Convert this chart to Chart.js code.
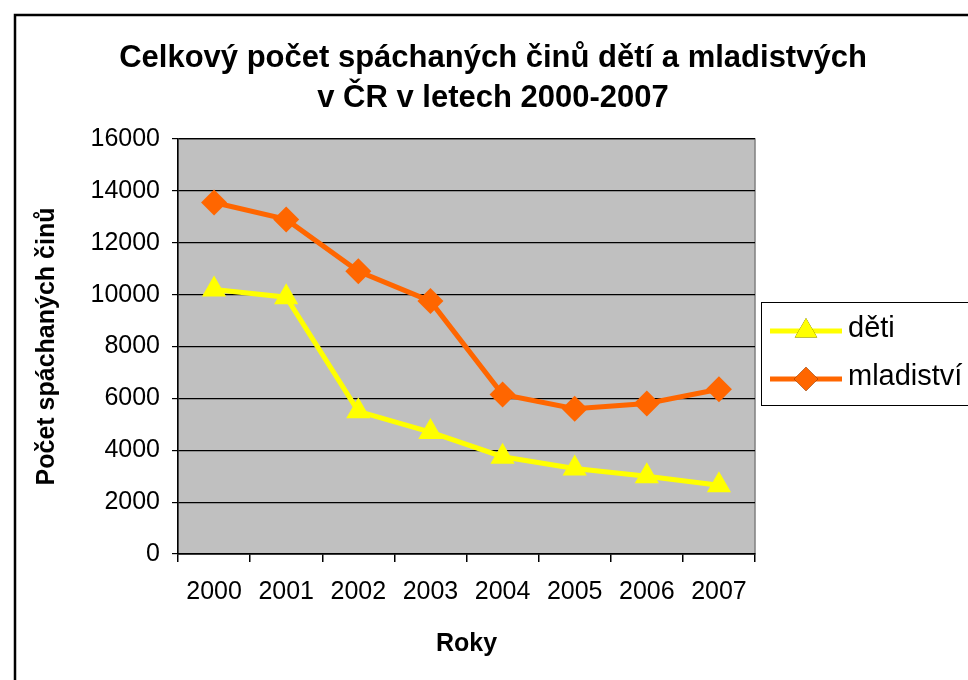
<!DOCTYPE html>
<html>
<head>
<meta charset="utf-8">
<script src="https://cdn.jsdelivr.net/npm/chart.js@4"></script>
<style>
  html, body { margin: 0; padding: 0; background: #fff; }
  #wrap { width: 968px; height: 680px; }
</style>
</head>
<body>
<div id="wrap"><canvas id="chart" width="968" height="680"></canvas></div>
<script>
// data
const years = ['2000', '2001', '2002', '2003', '2004', '2005', '2006', '2007'];
const deti = [10200, 9900, 5500, 4700, 3750, 3300, 3000, 2650];
const mladistvi = [13550, 12900, 10900, 9750, 6150, 5600, 5800, 6350];
const titleLines = ['Celkový počet spáchaných činů dětí a mladistvých', 'v ČR v letech 2000-2007'];

const FONT = '"Liberation Sans", Arial, sans-serif';

// grey plot background, outer frame, title and the boxed legend
const decor = {
    id: 'decor',
    beforeDraw(chart) {
        const c = chart.ctx;
        const a = chart.chartArea;
        c.save();
        c.fillStyle = '#c0c0c0';
        c.fillRect(a.left, a.top, a.right - a.left, a.bottom - a.top);
        c.strokeStyle = '#808080';
        c.lineWidth = 1.5;
        c.strokeRect(a.left, a.top, a.right - a.left, a.bottom - a.top);
        c.restore();
    },
    afterDraw(chart) {
        const c = chart.ctx;
        c.save();
        // frame
        c.strokeStyle = '#000';
        c.lineWidth = 2.5;
        c.strokeRect(15, 15, 1000, 700);

        // title
        c.fillStyle = '#000';
        c.font = 'bold 31px ' + FONT;
        c.textAlign = 'center';
        c.textBaseline = 'middle';
        titleLines.forEach((t, i) => c.fillText(t, 493, 58 + i * 40));

        // legend
        c.lineWidth = 1;
        c.strokeRect(761.5, 302.5, 260, 103);
        c.font = '29px ' + FONT;
        c.textAlign = 'left';
        chart.data.datasets.forEach((ds, i) => {
            const y = 331 + i * 48;
            c.strokeStyle = ds.borderColor;
            c.lineWidth = ds.borderWidth;
            c.beginPath();
            c.moveTo(770, y);
            c.lineTo(842, y);
            c.stroke();
            Chart.helpers.drawPoint(c, {
                pointStyle: ds.pointStyle,
                radius: ds.pointRadius - 1,
                rotation: 0,
                borderWidth: 0
            }, 806, y);
            c.fillStyle = ds.borderColor;
            c.fill();
            c.fillStyle = '#000';
            c.fillText(ds.label, 848, y - 2);
        });
        c.restore();
    }
};

new Chart(document.getElementById('chart'), {
    type: 'line',
    data: {
        labels: years,
        datasets: [{
            label: 'děti',
            data: deti,
            borderColor: '#ffff00',
            backgroundColor: '#ffff00',
            borderWidth: 5,
            pointStyle: 'triangle',
            pointRadius: 14,
            pointBorderWidth: 0,
            tension: 0
        }, {
            label: 'mladiství',
            data: mladistvi,
            borderColor: '#ff6600',
            backgroundColor: '#ff6600',
            borderWidth: 5,
            pointStyle: 'rectRot',
            pointRadius: 13,
            pointBorderWidth: 0,
            tension: 0
        }]
    },
    options: {
        responsive: false,
        animation: false,
        layout: { padding: { left: 15, top: 139, right: 213, bottom: 0 } },
        plugins: {
            legend: { display: false },
            title: { display: false },
            tooltip: { enabled: false }
        },
        scales: {
            x: {
                offset: true,
                grid: { offset: true, drawOnChartArea: false, drawTicks: true, tickLength: 8, color: '#000', lineWidth: 1.5 },
                border: { color: '#000', width: 1.5 },
                ticks: { color: '#000', padding: 15, font: { family: FONT, size: 25 } },
                title: { display: true, text: 'Roky', color: '#000', font: { family: FONT, size: 25, weight: 'bold' }, padding: { top: 0, bottom: 21 } },
                afterFit(scale) { scale.height = 126; }
            },
            y: {
                min: 0,
                max: 16000,
                ticks: {
                    stepSize: 2000,
                    color: '#000',
                    padding: 12,
                    font: { family: FONT, size: 25 },
                    callback: v => String(v)
                },
                grid: { color: '#000', lineWidth: 1.2, tickLength: 6 },
                border: { color: '#000', width: 1.5 },
                title: { display: true, text: 'Počet spáchaných činů', color: '#000', font: { family: FONT, size: 25, weight: 'bold' }, padding: { top: 17, bottom: 0 } },
                afterFit(scale) { scale.width = 163; }
            }
        }
    },
    plugins: [decor]
});
</script>
</body>
</html>
